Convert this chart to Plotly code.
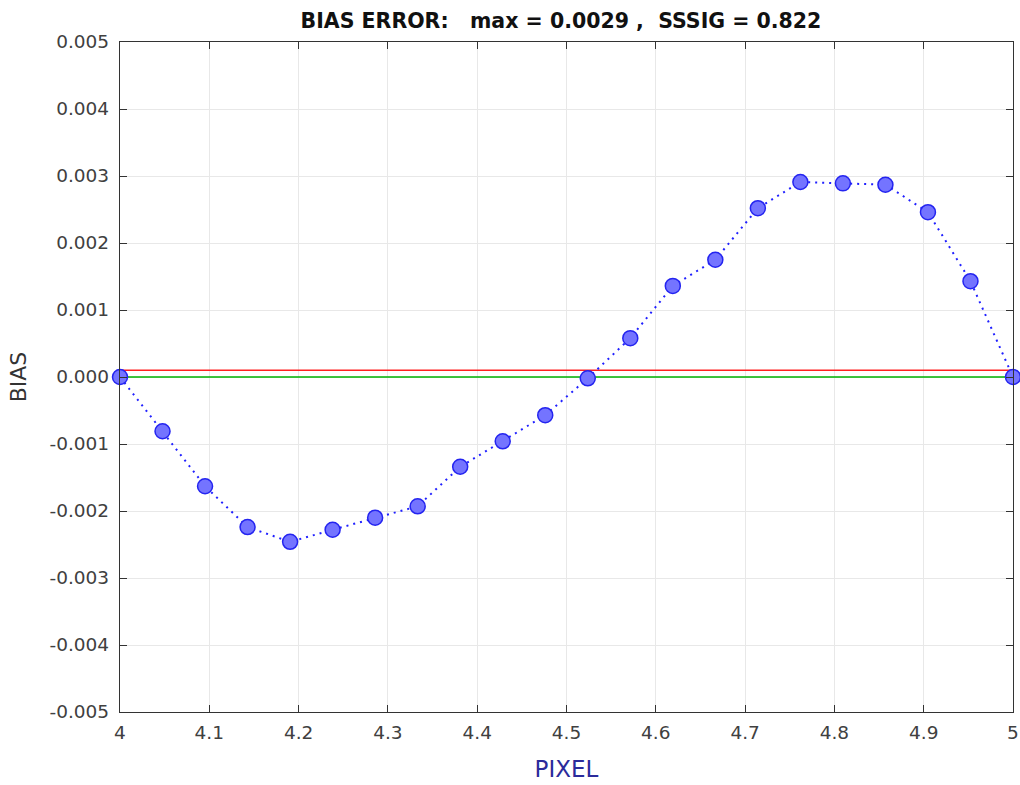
import plotly.graph_objects as go

pixel = [4 + k / 21 for k in range(22)]
bias = [0.0, -0.00081, -0.00163, -0.00224, -0.00246, -0.00228, -0.00210, -0.00193,
        -0.00134, -0.00096, -0.00057, -0.00002, 0.00058, 0.00136, 0.00175, 0.00252,
        0.00291, 0.00289, 0.00287, 0.00246, 0.00143, 0.0]
red_level = 0.0001
green_level = 0.0
x_ticks = [4, 4.1, 4.2, 4.3, 4.4, 4.5, 4.6, 4.7, 4.8, 4.9, 5]
x_labels = ["4", "4.1", "4.2", "4.3", "4.4", "4.5", "4.6", "4.7", "4.8", "4.9", "5"]
y_ticks = [-0.005, -0.004, -0.003, -0.002, -0.001, 0, 0.001, 0.002, 0.003, 0.004, 0.005]
y_labels = ["-0.005", "-0.004", "-0.003", "-0.002", "-0.001", "0.000", "0.001", "0.002", "0.003", "0.004", "0.005"]

FONT = "DejaVu Sans, Liberation Sans, Arial"

fig = go.Figure()
fig.add_trace(go.Scatter(x=[4, 5], y=[red_level, red_level], mode="lines",
                         line=dict(color="#ff2020", width=1.5), showlegend=False, hoverinfo="skip"))
fig.add_trace(go.Scatter(x=[4, 5], y=[green_level, green_level], mode="lines",
                         line=dict(color="#00b000", width=1.5), showlegend=False, hoverinfo="skip"))
fig.add_trace(go.Scatter(x=pixel, y=bias, mode="lines+markers",
                         line=dict(color="#2020ff", width=2, dash="2px,5px"),
                         marker=dict(size=15, color="rgba(116,116,255,1)",
                                     line=dict(color="#2424f0", width=1.5)),
                         showlegend=False, cliponaxis=False))

axis_common = dict(showline=True, linecolor="#333333", linewidth=1.3, mirror="ticks",
                   ticks="inside", ticklen=7, tickcolor="#333333",
                   showgrid=True, gridcolor="#e8e8e8", gridwidth=1, zeroline=False,
                   automargin=False,
                   tickfont=dict(family=FONT, size=18.5, color="#404040"))

fig.update_layout(
    width=1020, height=785,
    paper_bgcolor="white", plot_bgcolor="white",
    margin=dict(l=120, r=7, t=42, b=73),
    title=dict(text="<b>BIAS ERROR:   max = 0.0029 ,  SSSIG = 0.822</b>",
               x=0.55, xanchor="center", y=0.974, yanchor="middle",
               font=dict(family=FONT, size=20.5, color="#111111")),
    xaxis=dict(range=[4, 5], tickvals=x_ticks, ticktext=x_labels, ticklabelstandoff=4,
               title=dict(text="PIXEL", standoff=18,
                          font=dict(family=FONT, size=23, color="#2b2b9b")),
               **axis_common),
    yaxis=dict(range=[-0.005, 0.005], tickvals=y_ticks, ticktext=y_labels, ticklabelstandoff=6,
               title=dict(text="BIAS", standoff=16,
                          font=dict(family=FONT, size=22, color="#333333")),
               **axis_common),
)

fig.write_html("out.html")
